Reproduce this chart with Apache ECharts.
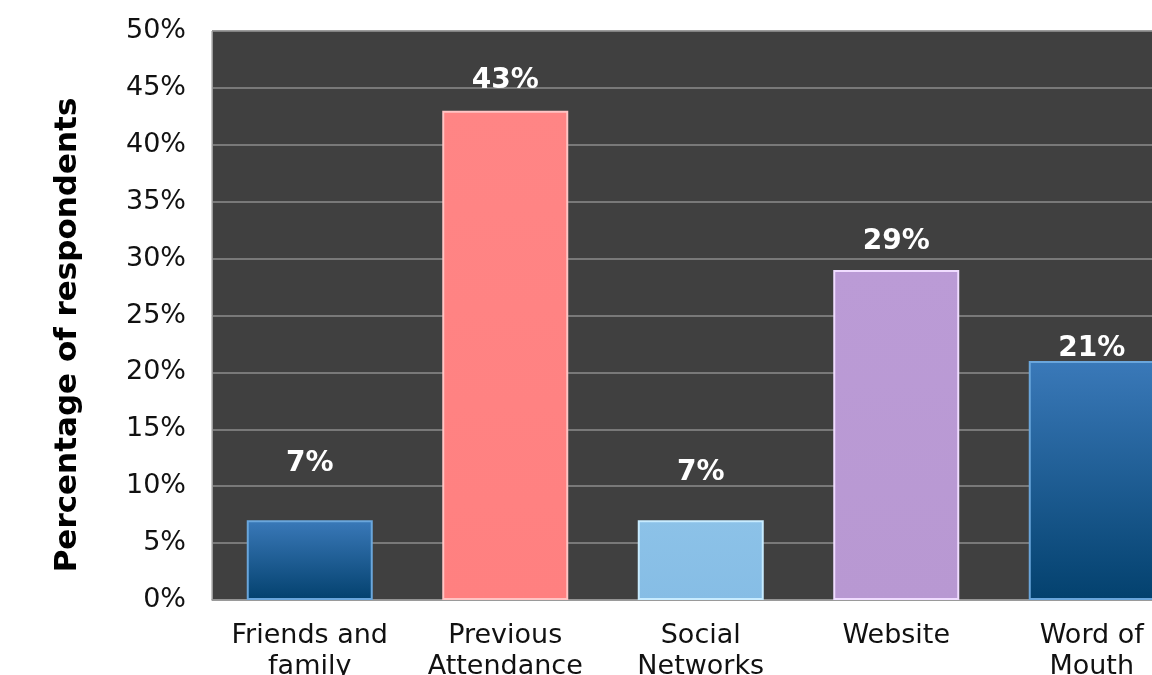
<!DOCTYPE html>
<html><head><meta charset="utf-8">
<script src="https://cdn.jsdelivr.net/npm/echarts@6/dist/echarts.min.js"></script>
<style>html,body{margin:0;padding:0;background:#fff;overflow:hidden}#c{width:1152px;height:675px}</style>
</head><body><div id="c"></div>
<script>
const categories = ['Friends and\nfamily', 'Previous\nAttendance', 'Social\nNetworks', 'Website', 'Word of\nMouth'];
const values = [7, 43, 7, 29, 21];
const yTicks = [0, 5, 10, 15, 20, 25, 30, 35, 40, 45, 50];
const yAxisTitle = 'Percentage of respondents';

const barColors = [
  {top: '#3a79b9', bottom: '#03416e', edge: '#6aa6dc'},
  {top: '#ff8585', bottom: '#ff8080', edge: '#ffc4c4'},
  {top: '#8cc2e8', bottom: '#86bde5', edge: '#c8ecff'},
  {top: '#bb9bd6', bottom: '#b898d2', edge: '#f0dcff'},
  {top: '#3a79b9', bottom: '#03416e', edge: '#6aa6dc'}
];
const labelLift = [43, 16, 34, 14, -2];

const chart = echarts.init(document.getElementById('c'));
chart.setOption({
  animation: false,
  backgroundColor: '#ffffff',
  grid: {left: 212, right: -37.5, top: 31, bottom: 75, containLabel: false, outerBoundsMode: 'none',
         show: true, backgroundColor: '#404040', borderColor: '#8a8a8a', borderWidth: 1},
  xAxis: {
    type: 'category', data: categories,
    axisLine: {show: true, lineStyle: {color: '#9a9a9a', width: 1.5}},
    axisTick: {show: false},
    axisLabel: {color: '#111', fontFamily: 'DejaVu Sans', fontSize: 27, lineHeight: 31, margin: 20, interval: 0}
  },
  yAxis: {
    type: 'value', min: yTicks[0], max: yTicks[yTicks.length - 1], interval: 5,
    axisLine: {show: true, lineStyle: {color: '#9a9a9a'}},
    axisTick: {show: false},
    splitLine: {lineStyle: {color: '#8c8c8c', width: 1.5}},
    axisLabel: {color: '#111', fontFamily: 'DejaVu Sans', fontSize: 27, margin: 26, formatter: '{value}%'}
  },
  graphic: [{
    type: 'text', x: 68, y: 335, rotation: Math.PI / 2,
    style: {text: yAxisTitle, font: 'bold 31px "DejaVu Sans"', fill: '#000', align: 'center', verticalAlign: 'middle'}
  }],
  series: [{
    type: 'bar', barWidth: 126,
    data: values.map((v, i) => ({
      value: v,
      itemStyle: {
        color: new echarts.graphic.LinearGradient(0, 0, 0, 1, [
          {offset: 0, color: barColors[i].top}, {offset: 1, color: barColors[i].bottom}
        ]),
        borderColor: barColors[i].edge, borderWidth: 2
      },
      label: {offset: [0, -labelLift[i]]}
    })),
    label: {show: true, position: 'top', distance: 0, formatter: '{c}%',
            color: '#ffffff', fontFamily: 'DejaVu Sans', fontWeight: 'bold', fontSize: 28}
  }]
});
</script></body></html>
